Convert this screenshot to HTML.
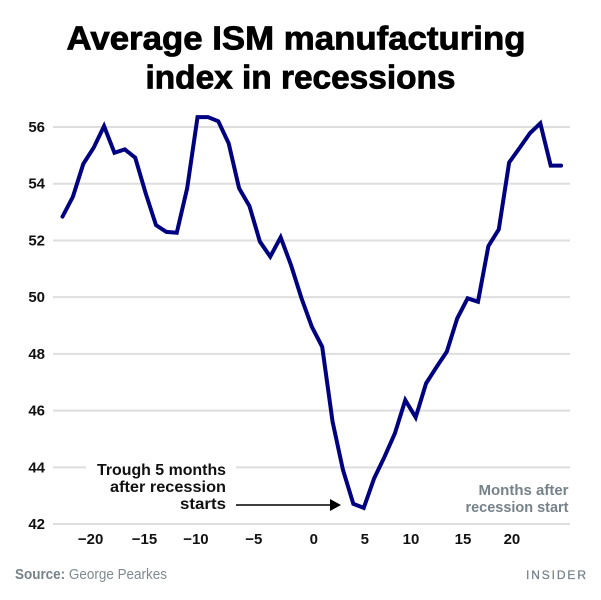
<!DOCTYPE html>
<html lang="en">
<head>
<meta charset="utf-8">
<title>Average ISM manufacturing index in recessions</title>
<style>
html,body{margin:0;padding:0;background:#fff}
#chart{display:block;width:601px;height:600px;font-family:"Liberation Sans",sans-serif}
text{font-family:"Liberation Sans",sans-serif}
</style>
</head>
<body>
<svg id="chart" xmlns="http://www.w3.org/2000/svg" width="601" height="600" viewBox="0 0 601 600">
  <rect width="601" height="600" fill="#fff"/>
  <g font-weight="700" font-size="33" fill="#000" stroke="#000" stroke-width="0.8" text-anchor="middle">
    <text x="296" y="49.5" textLength="459" lengthAdjust="spacingAndGlyphs">Average ISM manufacturing</text>
    <text x="300.5" y="88.5" textLength="310" lengthAdjust="spacingAndGlyphs">index in recessions</text>
  </g>
  <g id="grid"></g>
  <g id="y-ticks"></g>
  <g id="x-ticks"></g>
  <rect x="86" y="460" width="150" height="54" fill="#fff"/>
  <path id="series" fill="none" stroke="#000080" stroke-width="4" stroke-linejoin="miter" stroke-linecap="round"></path>
  <g font-weight="700" font-size="15.5" fill="#111" text-anchor="end">
    <text x="226" y="475" textLength="129" lengthAdjust="spacingAndGlyphs">Trough 5 months</text>
    <text x="226" y="492" textLength="116" lengthAdjust="spacingAndGlyphs">after recession</text>
    <text x="226" y="509" textLength="46" lengthAdjust="spacingAndGlyphs">starts</text>
  </g>
  <line x1="236" y1="505" x2="332" y2="505" stroke="#000" stroke-width="1.4"/>
  <polygon points="330,499 341,505 330,511" fill="#000"/>
  <g font-weight="700" font-size="15" fill="#76828a" text-anchor="end">
    <text x="568.5" y="495" textLength="90" lengthAdjust="spacingAndGlyphs">Months after</text>
    <text x="568.5" y="512" textLength="103" lengthAdjust="spacingAndGlyphs">recession start</text>
  </g>
  <text x="15" y="579" font-size="14.5" fill="#7f8a90" textLength="152" lengthAdjust="spacingAndGlyphs"><tspan font-weight="700" fill="#76828a">Source:</tspan> George Pearkes</text>
  <text x="526" y="579" font-size="12" fill="#76828a" stroke="#76828a" stroke-width="0.25" textLength="60" lengthAdjust="spacing">INSIDER</text>
</svg>
<script>
const months = [-24,-23,-22,-21,-20,-19,-18,-17,-16,-15,-14,-13,-12,-11,-10,-9,-8,-7,-6,-5,-4,-3,-2,-1,0,1,2,3,4,5,6,7,8,9,10,11,12,13,14,15,16,17,18,19,20,21,22,23,24];
const ismValues = [52.84,53.54,54.70,55.27,56.03,55.09,55.21,54.92,53.67,52.54,52.30,52.27,53.84,56.35,56.35,56.20,55.42,53.84,53.21,51.96,51.43,52.11,51.13,49.97,48.96,48.25,45.61,43.91,42.71,42.57,43.61,44.37,45.20,46.37,45.76,46.96,47.53,48.08,49.25,49.96,49.84,51.80,52.39,54.75,55.26,55.78,56.13,54.64,54.64];
const yTicks = [42,44,46,48,50,52,54,56];
const xTicks = [-20,-15,-10,-5,0,5,10,15,20];

const NS = 'http://www.w3.org/2000/svg';
function xScale(m){ return 311.8 + 10.387 * m; }
function yScale(v){ return 127 + (56 - v) * 28.36; }
// The reference prints its month labels slightly off their data positions.
function xLabelNudge(t){
  const nudges = {'-20':-13.4,'-15':-11.5,'-10':-12,'-5':-6,'0':2,'5':1,'10':-4.7,'15':-4.6,'20':-7.6};
  return nudges[String(t)] || 0;
}

const grid = document.getElementById('grid');
const yLabels = document.getElementById('y-ticks');
yTicks.forEach(function(t){
  const line = document.createElementNS(NS,'line');
  
  
  line.setAttribute('x1', 53);
  line.setAttribute('x2', 570);
  line.setAttribute('y1', yScale(t));
  line.setAttribute('y2', yScale(t));
  line.setAttribute('stroke', '#dedede');
  line.setAttribute('stroke-width', 2);
  grid.appendChild(line);

  const label = document.createElementNS(NS,'text');
  
  
  label.setAttribute('x', 45);
  label.setAttribute('y', yScale(t) + 5);
  label.setAttribute('text-anchor', 'end');
  label.setAttribute('font-size', '15');
  label.setAttribute('font-weight', '700');
  label.setAttribute('fill', '#111');
  label.textContent = String(t);
  yLabels.appendChild(label);
});

const xLabels = document.getElementById('x-ticks');
xTicks.forEach(function(t){
  const label = document.createElementNS(NS,'text');
  
  
  label.setAttribute('x', xScale(t) + xLabelNudge(t));
  label.setAttribute('y', 544);
  label.setAttribute('text-anchor', 'middle');
  label.setAttribute('font-size', '15');
  label.setAttribute('font-weight', '700');
  label.setAttribute('fill', '#111');
  label.textContent = t < 0 ? '\u2212' + Math.abs(t) : String(t);
  xLabels.appendChild(label);
});

document.getElementById('series').setAttribute('d', months.map(function(m,i){
  return (i ? 'L' : 'M') + xScale(m).toFixed(2) + ' ' + yScale(ismValues[i]).toFixed(2);
}).join(' '));
</script>
</body>
</html>
